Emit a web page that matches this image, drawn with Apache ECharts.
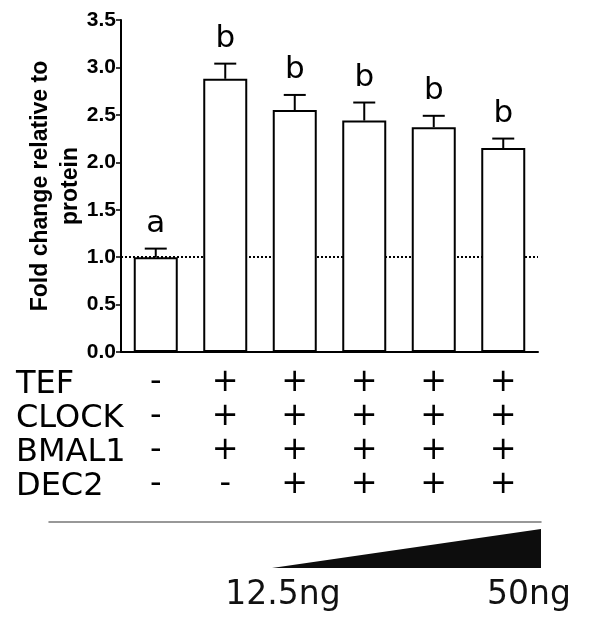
<!DOCTYPE html>
<html>
<head>
<meta charset="UTF-8">
<title></title>
<script src="https://cdn.jsdelivr.net/npm/echarts@6/dist/echarts.min.js"></script>
<style>
  html, body { margin: 0; padding: 0; background: #fff; }
  #main { width: 589px; height: 619px; }
</style>
</head>
<body>
<div id="main"></div>
<script type="text/javascript">
// values
var rowNames = ['TEF', 'CLOCK', 'BMAL1', 'DEC2'];
var tef    = ['-', '+', '+', '+', '+', '+'];
var clock  = ['-', '+', '+', '+', '+', '+'];
var bmal1  = ['-', '+', '+', '+', '+', '+'];
var dec2   = ['-', '-', '+', '+', '+', '+'];
var foldChange = [1.00, 2.88, 2.55, 2.44, 2.37, 2.15];
var sem        = [0.09, 0.16, 0.16, 0.19, 0.12, 0.10];
var letters    = ['a', 'b', 'b', 'b', 'b', 'b'];
var doses = [12.5, 50];

var cats = foldChange.map(function (v, i) { return 'g' + i; });
var errData = foldChange.map(function (v, i) { return [i, v, v + sem[i]]; });

var tableFont = 'DejaVu Sans';

var myChart = echarts.init(document.getElementById('main'));

var option = {
  animation: false,
  backgroundColor: '#fff',
  grid: [
    { left: 121, right: 51, top: 20, bottom: 267 },
    { left: 49, right: 48, top: 522, height: 1 },
    { left: 272, right: 48, top: 529, height: 39 }
  ],
  xAxis: [
    {
      type: 'category', gridIndex: 0, data: cats,
      axisLine: { lineStyle: { color: '#000', width: 2 } },
      axisTick: { alignWithLabel: true, length: 4, lineStyle: { color: '#000', width: 1.5 } },
      axisLabel: {
        margin: 14,
        color: '#000',
        fontFamily: tableFont,
        fontSize: 32,
        lineHeight: 34,
        formatter: function (v, i) {
          return [tef[i], clock[i], bmal1[i], dec2[i]].join('\n');
        }
      }
    },
    {
      type: 'value', gridIndex: 1, min: 0, max: 1, position: 'top',
      axisLine: { show: true, onZero: false, lineStyle: { color: '#777', width: 1.5 } },
      axisTick: { show: false }, axisLabel: { show: false }, splitLine: { show: false }
    },
    {
      type: 'value', gridIndex: 2, min: doses[0], max: doses[1],
      axisLine: { show: false }, axisTick: { show: false }, splitLine: { show: false },
      axisLabel: {
        customValues: doses,
        margin: 11,
        color: '#111',
        fontFamily: tableFont,
        fontSize: 33,
        formatter: function (v) {
          return v === doses[0] ? '{lo|' + v + 'ng}' : '{hi|' + v + 'ng}';
        },
        rich: {
          lo: { fontFamily: tableFont, fontSize: 33, color: '#111', padding: [0, 0, 0, 22] },
          hi: { fontFamily: tableFont, fontSize: 33, color: '#111', padding: [0, 24, 0, 0] }
        }
      }
    }
  ],
  yAxis: [
    {
      type: 'value', gridIndex: 0, min: 0, max: 3.5, interval: 0.5,
      name: 'Fold change relative to\nprotein',
      nameLocation: 'middle',
      nameRotate: 90,
      nameGap: 35,
      nameMoveOverlap: false,
      nameTextStyle: {
        fontFamily: 'Liberation Sans', fontWeight: 'bold', fontSize: 23,
        lineHeight: 30, color: '#000'
      },
      axisLine: { show: true, lineStyle: { color: '#000', width: 2 } },
      axisTick: { show: true, length: 5, lineStyle: { color: '#000', width: 1.5 } },
      splitLine: { show: false },
      axisLabel: {
        margin: 5, color: '#000',
        fontFamily: 'Liberation Sans', fontWeight: 'bold', fontSize: 21,
        formatter: function (v) { return v.toFixed(1); }
      }
    },
    { type: 'value', gridIndex: 1, min: 0, max: 1, show: false },
    { type: 'value', gridIndex: 2, min: 0, max: 1, show: false }
  ],
  graphic: rowNames.map(function (n, i) {
    return {
      type: 'text', left: 16, top: 369 + i * 34,
      style: { text: n, fill: '#000', font: '32px "' + tableFont + '"' }
    };
  }),
  series: [
    {
      type: 'bar',
      xAxisIndex: 0, yAxisIndex: 0,
      data: foldChange,
      barWidth: 44,
      z: 3,
      itemStyle: { color: '#fff', borderColor: '#000', borderWidth: 2 },
      markLine: {
        silent: true,
        symbol: 'none',
        z: 1,
        label: { show: false },
        lineStyle: { color: '#000', type: [2, 2], width: 2 },
        data: [{ yAxis: 1 }]
      }
    },
    {
      type: 'custom',
      xAxisIndex: 0, yAxisIndex: 0,
      z: 4,
      data: errData,
      renderItem: function (params, api) {
        var lo = api.coord([api.value(0), api.value(1)]);
        var hi = api.coord([api.value(0), api.value(2)]);
        var st = { stroke: '#000', lineWidth: 2 };
        return {
          type: 'group',
          children: [
            { type: 'line', shape: { x1: lo[0], y1: lo[1], x2: hi[0], y2: hi[1] }, style: st },
            { type: 'line', shape: { x1: hi[0] - 11, y1: hi[1], x2: hi[0] + 11, y2: hi[1] }, style: st },
            {
              type: 'text', x: hi[0], y: hi[1] - 9,
              style: {
                text: letters[params.dataIndex], fill: '#000',
                font: '31px "' + tableFont + '"',
                textAlign: 'center', textVerticalAlign: 'bottom'
              }
            }
          ]
        };
      }
    },
    {
      type: 'line',
      xAxisIndex: 2, yAxisIndex: 2,
      data: [[doses[0], 0], [doses[1], 1]],
      symbol: 'none',
      lineStyle: { width: 0 },
      areaStyle: { color: '#0d0d0d', opacity: 1 }
    }
  ]
};
myChart.setOption(option);
</script>
</body>
</html>
